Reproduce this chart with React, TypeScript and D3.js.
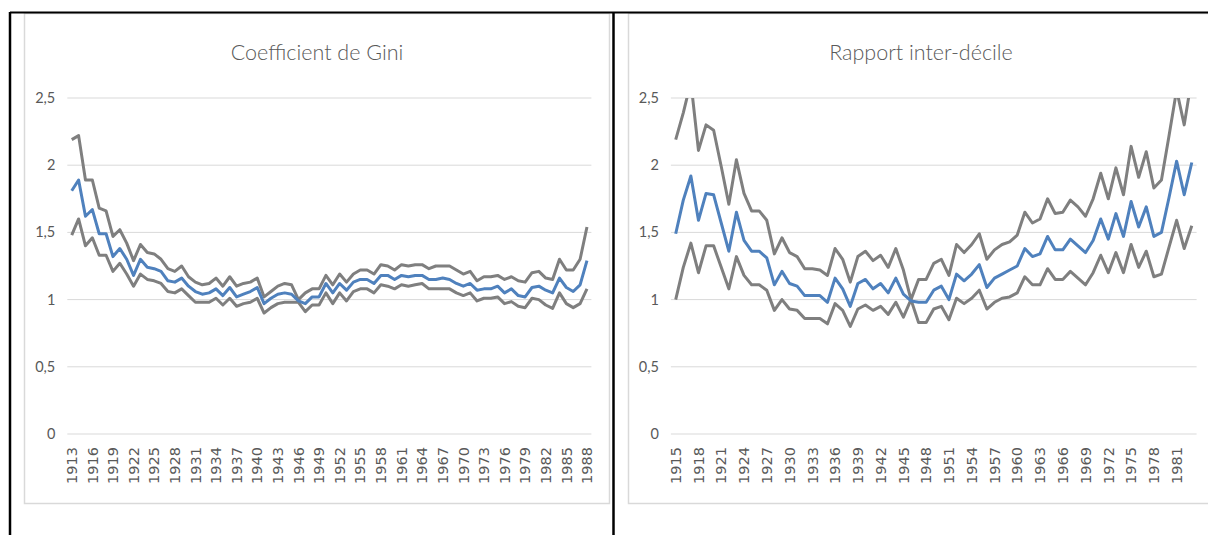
import React from 'react';
import * as d3 from 'd3';

// Gini coefficient, 1913-1988
const giniYears = d3.range(1913, 1989);
const giniHigh = [2.19, 2.22, 1.89, 1.89, 1.68, 1.66, 1.47, 1.52, 1.42, 1.29, 1.41, 1.35, 1.34, 1.30, 1.23, 1.21, 1.25, 1.17, 1.13, 1.11,
  1.12, 1.16, 1.10, 1.17, 1.10, 1.12, 1.13, 1.16, 1.02, 1.06, 1.10, 1.12, 1.11, 1.00, 1.05, 1.08, 1.08, 1.18, 1.11, 1.19,
  1.13, 1.19, 1.22, 1.22, 1.19, 1.26, 1.25, 1.22, 1.26, 1.25, 1.26, 1.26, 1.23, 1.25, 1.25, 1.25, 1.22, 1.19, 1.21, 1.14,
  1.17, 1.17, 1.18, 1.15, 1.17, 1.14, 1.13, 1.20, 1.21, 1.16, 1.15, 1.30, 1.22, 1.22, 1.30, 1.54];
const giniMid = [1.81, 1.89, 1.62, 1.67, 1.49, 1.49, 1.32, 1.38, 1.30, 1.18, 1.30, 1.24, 1.23, 1.21, 1.14, 1.13, 1.16, 1.10, 1.06, 1.04,
  1.05, 1.08, 1.03, 1.09, 1.02, 1.04, 1.06, 1.09, 0.97, 1.01, 1.04, 1.05, 1.04, 0.99, 0.97, 1.02, 1.02, 1.12, 1.05, 1.12,
  1.07, 1.13, 1.15, 1.15, 1.12, 1.18, 1.18, 1.15, 1.18, 1.17, 1.18, 1.18, 1.15, 1.15, 1.16, 1.15, 1.12, 1.10, 1.12, 1.07,
  1.08, 1.08, 1.10, 1.05, 1.08, 1.03, 1.02, 1.09, 1.10, 1.07, 1.05, 1.16, 1.09, 1.06, 1.11, 1.29];
const giniLow = [1.48, 1.60, 1.40, 1.46, 1.33, 1.33, 1.21, 1.27, 1.19, 1.10, 1.19, 1.15, 1.14, 1.12, 1.06, 1.05, 1.08, 1.03, 0.98, 0.98,
  0.98, 1.01, 0.96, 1.01, 0.95, 0.97, 0.98, 1.01, 0.90, 0.94, 0.97, 0.98, 0.98, 0.98, 0.91, 0.96, 0.96, 1.05, 0.97, 1.05,
  0.99, 1.06, 1.08, 1.08, 1.05, 1.11, 1.10, 1.08, 1.11, 1.10, 1.11, 1.12, 1.08, 1.08, 1.08, 1.08, 1.05, 1.03, 1.05, 0.99,
  1.01, 1.01, 1.02, 0.97, 0.985, 0.95, 0.94, 1.01, 1.00, 0.96, 0.935, 1.05, 0.97, 0.94, 0.97, 1.08];

// Rapport inter-décile, 1915-1983
const decileYears = d3.range(1915, 1984);
const decileHigh = [2.19, 2.39, 2.62, 2.11, 2.30, 2.26, 1.99, 1.71, 2.04, 1.79, 1.66, 1.66, 1.59, 1.34, 1.46, 1.35, 1.32, 1.23,
  1.23, 1.22, 1.18, 1.38, 1.30, 1.13, 1.32, 1.36, 1.29, 1.33, 1.24, 1.38, 1.22, 1.00, 1.15, 1.15, 1.27, 1.30, 1.18, 1.41,
  1.35, 1.41, 1.49, 1.30, 1.37, 1.41, 1.43, 1.48, 1.65, 1.57, 1.60, 1.75, 1.64, 1.65, 1.74, 1.69, 1.62, 1.75, 1.94, 1.75,
  1.98, 1.78, 2.14, 1.91, 2.10, 1.83, 1.89, 2.22, 2.56, 2.30, 2.65];
const decileMid = [1.49, 1.74, 1.92, 1.59, 1.79, 1.78, 1.57, 1.36, 1.65, 1.44, 1.36, 1.36, 1.31, 1.11, 1.21, 1.12, 1.10, 1.03,
  1.03, 1.03, 0.98, 1.16, 1.08, 0.95, 1.12, 1.15, 1.08, 1.12, 1.05, 1.16, 1.04, 0.99, 0.98, 0.98, 1.07, 1.10, 1.00, 1.19,
  1.14, 1.19, 1.26, 1.09, 1.16, 1.19, 1.22, 1.25, 1.38, 1.32, 1.34, 1.47, 1.37, 1.37, 1.45, 1.40, 1.35, 1.44, 1.60, 1.45,
  1.64, 1.47, 1.73, 1.54, 1.69, 1.47, 1.50, 1.76, 2.03, 1.78, 2.02];
const decileLow = [1.00, 1.24, 1.42, 1.20, 1.40, 1.40, 1.24, 1.08, 1.32, 1.18, 1.11, 1.11, 1.07, 0.92, 1.00, 0.93, 0.92, 0.86,
  0.86, 0.86, 0.82, 0.97, 0.92, 0.80, 0.93, 0.96, 0.92, 0.95, 0.89, 0.98, 0.87, 1.00, 0.83, 0.83, 0.93, 0.95, 0.85, 1.01,
  0.97, 1.01, 1.07, 0.93, 0.98, 1.01, 1.02, 1.05, 1.17, 1.11, 1.11, 1.23, 1.15, 1.15, 1.21, 1.16, 1.11, 1.20, 1.33, 1.20,
  1.35, 1.20, 1.41, 1.24, 1.36, 1.17, 1.19, 1.39, 1.59, 1.38, 1.55];

const yTicks = [0, 0.5, 1, 1.5, 2, 2.5];

const GRAY = '#7f7f7f';
const BLUE = '#4f81bd';
const TEXT = '#595959';
const GRID = '#d9d9d9';

type PanelProps = {
  id: string;
  title: string;
  years: number[];
  high: number[];
  mid: number[];
  low: number[];
  left: number;
  right: number;
  boxLeft: number;
  boxRight: number;
  titleX: number;
};

function Panel({ id, title, years, high, mid, low, left, right, boxLeft, boxRight, titleX }: PanelProps) {
  const x = d3.scaleBand<number>().domain(years).range([left, right]);
  const y = d3.scaleLinear().domain([0, 2.5]).range([434, 98]);
  const cx = (yr: number) => (x(yr) as number) + x.bandwidth() / 2;

  const line = d3.line<number>()
    .x((_, i) => cx(years[i]))
    .y(d => y(d));

  const labelYears = years.filter((_, i) => i % 3 === 0);
  const gridLeft = left - 1;
  const gridRight = right + 1;

  return (
    <g>
      <defs>
        <clipPath id={id}>
          <rect x={left - 10} y={y(2.5)} width={right - left + 20} height={y(0) - y(2.5) + 10} />
        </clipPath>
      </defs>
      <rect x={boxLeft} y={13.5} width={boxRight - boxLeft} height={490} fill="#fff" stroke={GRID} strokeWidth={1.5} />
      <text x={titleX} y={60} textAnchor="middle" fontFamily="Lato, 'Open Sans', sans-serif"
        fontSize={21.5} fontWeight={300} fill={TEXT}>{title}</text>
      {yTicks.map(t => (
        <g key={t}>
          <line x1={gridLeft} x2={gridRight} y1={y(t)} y2={y(t)} stroke={GRID} strokeWidth={1} />
          <text x={gridLeft - 12} y={y(t)} dy="0.35em" textAnchor="end" fontFamily="Lato, 'Open Sans', sans-serif"
            fontSize={14.5} fill={TEXT}>{String(t).replace('.', ',')}</text>
        </g>
      ))}
      {labelYears.map(yr => (
        <text key={yr} transform={`translate(${cx(yr)},447) rotate(-90)`} dy="0.36em" textAnchor="end"
          fontFamily="'DejaVu Sans', Verdana, sans-serif" fontSize={14.5} fill={TEXT}>{yr}</text>
      ))}
      <g clipPath={`url(#${id})`} fill="none" strokeWidth={3} strokeLinejoin="round">
        <path d={line(low) ?? ''} stroke={GRAY} />
        <path d={line(high) ?? ''} stroke={GRAY} />
        <path d={line(mid) ?? ''} stroke={BLUE} />
      </g>
    </g>
  );
}

export default function App() {
  return (
    <svg width={1208} height={535} style={{ position: 'absolute', left: 0, top: 0, background: '#fff' }}>
      <rect x={0} y={0} width={1208} height={535} fill="#fff" />
      <Panel id="clipGini" title="Coefficient de Gini" years={giniYears} high={giniHigh} mid={giniMid} low={giniLow}
        left={68.3} right={590.4} boxLeft={24.5} boxRight={609.5} titleX={317} />
      <Panel id="clipDecile" title="Rapport inter-décile" years={decileYears} high={decileHigh} mid={decileMid} low={decileLow}
        left={671.9} right={1195.6} boxLeft={628.5} boxRight={1212} titleX={921} />
      <line x1={10} x2={1208} y1={12.5} y2={12.5} stroke="#000" strokeWidth={2} />
      <line x1={10} x2={10} y1={12} y2={535} stroke="#000" strokeWidth={2.5} />
      <line x1={613.5} x2={613.5} y1={12} y2={535} stroke="#000" strokeWidth={2.5} />
    </svg>
  );
}
